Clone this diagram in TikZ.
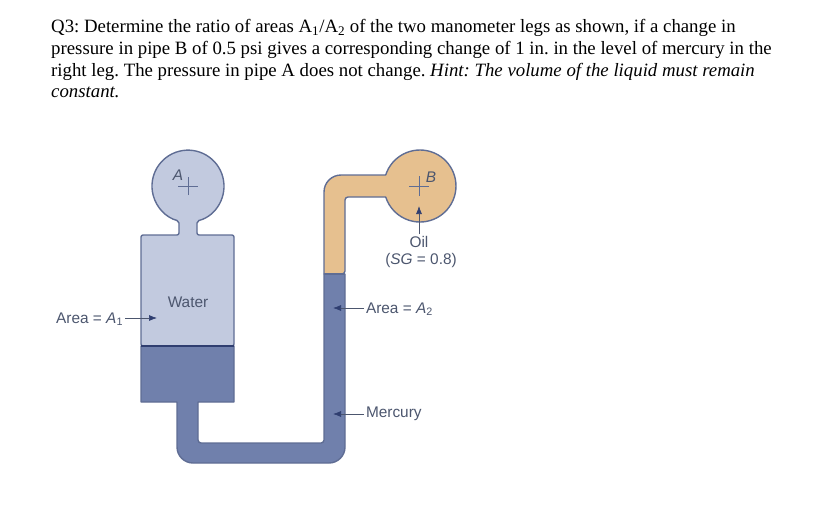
\documentclass[tikz,border=0pt]{standalone}
\usepackage{fontspec}
\setmainfont{Liberation Serif}
\newfontfamily\labelfont{Liberation Sans}
\usetikzlibrary{arrows.meta}
\definecolor{waterfill}{HTML}{C2CADF}
\definecolor{mercfill}{HTML}{7080AC}
\definecolor{oilfill}{HTML}{E6C08F}
\definecolor{wall}{HTML}{5F6D94}
\definecolor{darkwall}{HTML}{2F3E70}
\definecolor{labelgrey}{HTML}{4C566E}
\frenchspacing
\begin{document}
\begin{tikzpicture}[x=1pt,y=-1pt,
    question/.style = {anchor=base west, inner sep=0pt, font=\fontsize{18.8}{21}\selectfont},
    tag/.style = {inner sep=0pt, outer sep=2pt, text=labelgrey, font=\labelfont\fontsize{15.4}{18}\selectfont},
    fluid/.style = {draw=wall, line width=1.4pt, line join=round},
    pointer/.style = {draw=labelgrey, line width=0.7pt, -{Latex[length=8pt,width=6pt,color=darkwall]}},
    crosshair/.style = {draw=wall, line width=0.7pt}]
\useasboundingbox (0,0) rectangle (826,519);
\node[question] (lineone) at (51,33) {Q3: Determine the ratio of areas A\textsubscript{1}/A\textsubscript{2} of the two manometer legs as shown, if a change in};
\node[question] (linetwo) at (51,54) {pressure in pipe B of 0.5 psi gives a corresponding change of 1 in. in the level of mercury in the};
\node[question] (linethree) at (51,76) {right leg. The pressure in pipe A does not change. \textit{Hint: The volume of the liquid must remain}};
\node[question] (linefour) at (51,97) {\textit{constant.}};
% water side
\draw[fluid, fill=waterfill, rounded corners=2pt] (197,221) arc[start angle=-75.5, end angle=255.5, radius=36pt]
    -- (179,235) -- (141,235) -- (141,346) -- (234,346) -- (234,235) -- (197,235) -- cycle;
% oil side
\draw[fluid, fill=oilfill] (324,274) [rounded corners=17pt] -- (324,175) [sharp corners] -- (385.7,175)
    arc[start angle=162.2, end angle=-162.2, radius=36pt]
    [rounded corners=3pt] -- (345,197) -- (345,274) [sharp corners] -- cycle;
% mercury
\draw[fluid, fill=mercfill] (141,346) -- (234,346) -- (234,402) -- (198,402)
    [rounded corners=3pt] -- (198,443) -- (324,443) [sharp corners] -- (324,274) -- (345,274)
    [rounded corners=16pt] -- (345,463) -- (177,463) [sharp corners] -- (177,402) -- (141,402) -- cycle;
\draw[draw=darkwall, line width=1.6pt] (141,346) -- (234,346);
\draw[draw=wall, line width=1.4pt] (324,274) -- (345,274);
% pipe centres
\coordinate (centrea) at (188,186);
\coordinate (centreb) at (419,186);
\draw[crosshair] ([xshift=-10pt]centrea) -- ([xshift=10pt]centrea);
\draw[crosshair] ([yshift=-9pt]centrea) -- ([yshift=9pt]centrea);
\draw[crosshair] ([xshift=-10pt]centreb) -- ([xshift=10pt]centreb);
\draw[crosshair] ([yshift=-10pt]centreb) -- ([yshift=10pt]centreb);
\node[tag] (pipea) at (178,175) {\textit{A}};
\node[tag] (pipeb) at (431,177) {\textit{B}};
% labels
\node[tag] (water) at (188,302) {Water};
\node[tag, anchor=east] (areaone) at (125,319) {Area = \textit{A}\textsubscript{1}};
\node[tag, anchor=west] (areatwo) at (364,309) {Area = \textit{A}\textsubscript{2}};
\node[tag, anchor=west] (mercury) at (364,414) {Mercury};
\node[tag] (oil) at (419,242) {Oil};
\node[tag] (sg) at (421,261) {(\textit{SG} = 0.8)};
\coordinate (tipone) at (157,318);
\coordinate (tiptwo) at (333,308);
\coordinate (tipmerc) at (333,414);
\coordinate (tipoil) at (419,206);
\draw[pointer] (areaone.east |- tipone) -- (tipone);
\draw[pointer] (areatwo.west |- tiptwo) -- (tiptwo);
\draw[pointer] (mercury.west |- tipmerc) -- (tipmerc);
\draw[pointer] (oil.north -| tipoil) -- (tipoil);
\end{tikzpicture}
\end{document}
